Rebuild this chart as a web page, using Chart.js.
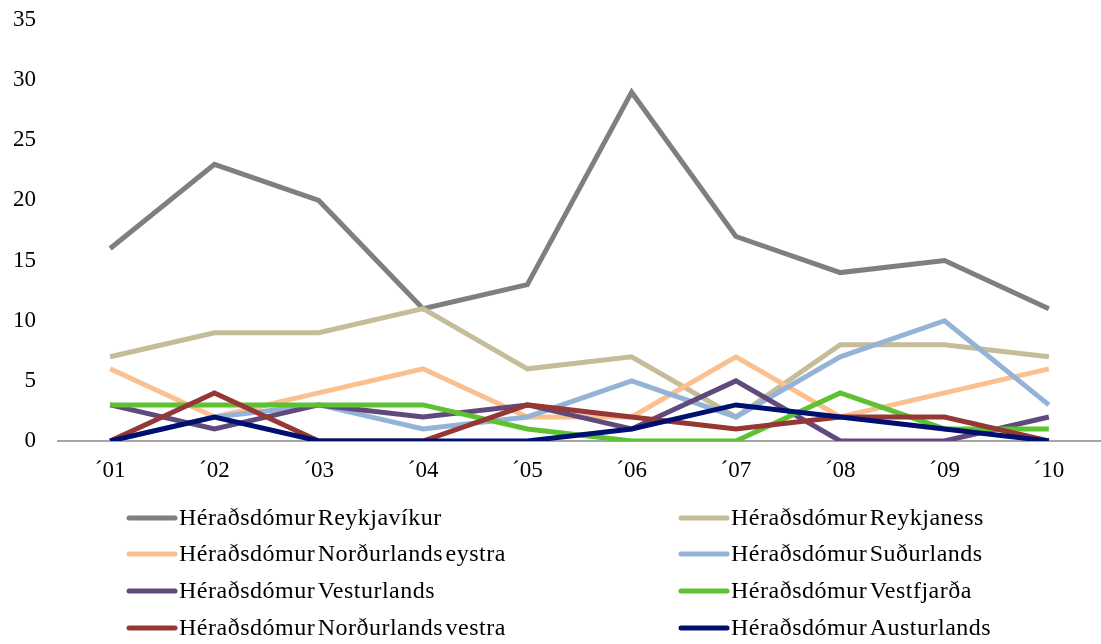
<!DOCTYPE html>
<html>
<head>
<meta charset="utf-8">
<script src="https://cdn.jsdelivr.net/npm/chart.js@4/dist/chart.umd.min.js"></script>
<style>
  html, body { margin: 0; padding: 0; background: #fff; }
  #wrap { width: 1101px; height: 644px; position: relative; overflow: hidden; }
</style>
</head>
<body>
<div id="wrap"><canvas id="chart" width="1101" height="644"></canvas></div>
<script>
  // categories and tick labels
  var years = ["´01", "´02", "´03", "´04", "´05", "´06", "´07", "´08", "´09", "´10"];
  var yTicks = [0, 5, 10, 15, 20, 25, 30, 35];

  // series values
  var reykjavikur = [16, 23, 20, 11, 13, 29, 17, 14, 15, 11];
  var reykjaness = [7, 9, 9, 11, 6, 7, 2, 8, 8, 7];
  var nordurlandsEystra = [6, 2, 4, 6, 2, 2, 7, 2, 4, 6];
  var sudurlands = [0, 2, 3, 1, 2, 5, 2, 7, 10, 3];
  var vesturlands = [3, 1, 3, 2, 3, 1, 5, 0, 0, 2];
  var vestfjarda = [3, 3, 3, 3, 1, 0, 0, 4, 1, 1];
  var nordurlandsVestra = [0, 4, 0, 0, 3, 2, 1, 2, 2, 0];
  var austurlands = [0, 2, 0, 0, 0, 1, 3, 2, 1, 0];

  var seriesNames = [
    "Héraðsdómur Reykjavíkur",
    "Héraðsdómur Reykjaness",
    "Héraðsdómur Norðurlands eystra",
    "Héraðsdómur Suðurlands",
    "Héraðsdómur Vesturlands",
    "Héraðsdómur Vestfjarða",
    "Héraðsdómur Norðurlands vestra",
    "Héraðsdómur Austurlands"
  ];
  var seriesData = [reykjavikur, reykjaness, nordurlandsEystra, sudurlands,
    vesturlands, vestfjarda, nordurlandsVestra, austurlands];
  var colors = ["#7f7f7f", "#c4bd97", "#fac090", "#95b3d7",
    "#604a7b", "#5cc232", "#953735", "#001070"];

  var serif = "'Liberation Serif', 'Times New Roman', serif";
  Chart.defaults.font.family = serif;
  Chart.defaults.font.size = 23;
  Chart.defaults.color = "#000";

  // two-column legend under the plot, like the original
  var legendGrid = {
    id: "legendGrid",
    afterDraw: function (chart) {
      var ctx = chart.ctx;
      var cols = [129, 681];
      var rows = [518, 554, 591, 628];
      ctx.save();
      ctx.font = "24px " + serif;
      ctx.letterSpacing = "0.5px";
      ctx.wordSpacing = "-4px";
      ctx.textBaseline = "middle";
      ctx.fillStyle = "#000";
      chart.data.datasets.forEach(function (ds, i) {
        var x = cols[i % 2];
        var y = rows[Math.floor(i / 2)];
        ctx.strokeStyle = ds.borderColor;
        ctx.lineWidth = 5;
        ctx.lineCap = "round";
        ctx.beginPath();
        ctx.moveTo(x, y);
        ctx.lineTo(x + 46, y);
        ctx.stroke();
        ctx.fillText(ds.label, x + 50, y + 1);
      });
      ctx.restore();
    }
  };

  var datasets = seriesData.map(function (vals, i) {
    return {
      label: seriesNames[i],
      data: vals,
      borderColor: colors[i],
      backgroundColor: colors[i],
      borderWidth: 5,
      pointRadius: 0,
      fill: false,
      tension: 0,
      order: seriesData.length - i
    };
  });

  new Chart(document.getElementById("chart").getContext("2d"), {
    type: "line",
    data: { labels: years, datasets: datasets },
    plugins: [legendGrid],
    options: {
      responsive: false,
      animation: false,
      layout: { padding: { top: 20, left: 14, right: -4, bottom: 0 } },
      plugins: {
        legend: { display: false },
        tooltip: { enabled: false }
      },
      scales: {
        x: {
          offset: true,
          grid: { display: false, drawTicks: false },
          border: { display: true, color: "#a6a6a6", width: 2 },
          ticks: { padding: 16, maxRotation: 0 },
          afterFit: function (axis) {
            axis.height = 644 - 441;
            axis.paddingLeft = 0;
            axis.paddingRight = 0;
          }
        },
        y: {
          min: 0,
          max: 35,
          afterBuildTicks: function (axis) {
            axis.ticks = yTicks.map(function (v) { return { value: v }; });
          },
          grid: { display: false, drawTicks: false },
          border: { display: false },
          ticks: { padding: 22 },
          afterFit: function (axis) {
            axis.width = 44;
            axis.paddingTop = 0;
            axis.paddingBottom = 0;
          }
        }
      }
    }
  });
</script>
</body>
</html>
